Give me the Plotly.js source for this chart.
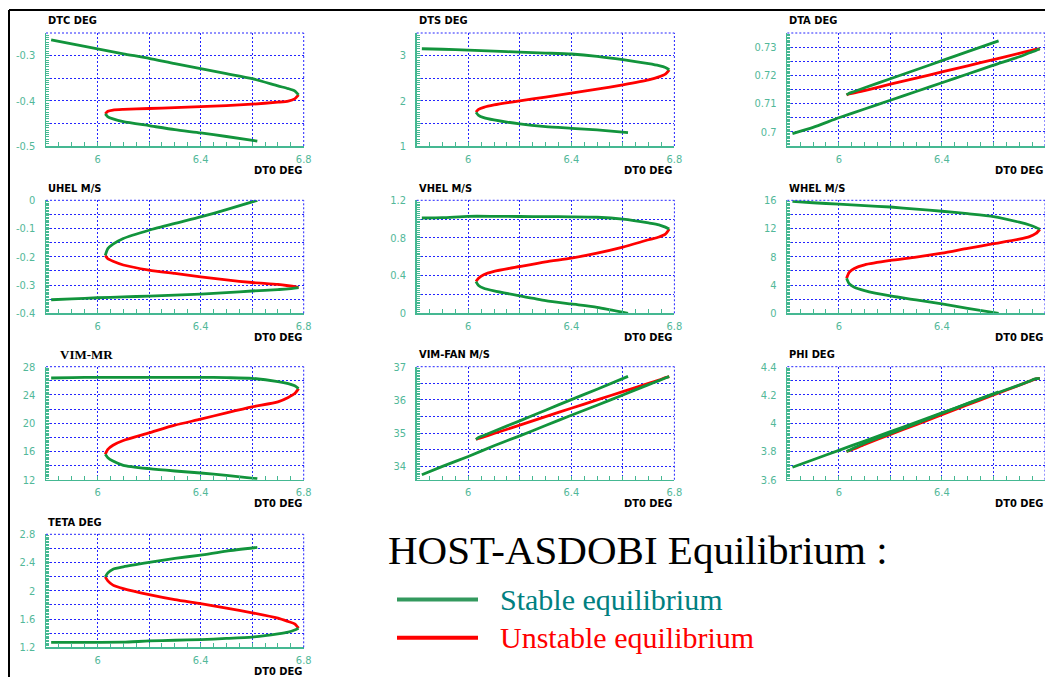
<!DOCTYPE html>
<html><head><meta charset="utf-8">
<script src="https://cdn.plot.ly/plotly-3.0.1.min.js"></script>
<style>html,body{margin:0;padding:0;background:#fff}#chart{width:1045px;height:677px}</style>
</head><body><div id="chart"></div>
<script>
// ---------- DATA ----------
// DT0 (deg) sample points along the three branches of the equilibrium curve
const dt0Stable1  = [5.82, 5.9, 6.0, 6.1, 6.2, 6.3, 6.4, 6.5, 6.6, 6.7, 6.74, 6.765, 6.78];
const dt0Unstable = [6.78, 6.765, 6.74, 6.7, 6.6, 6.5, 6.4, 6.3, 6.2, 6.1, 6.06, 6.04, 6.03];
const dt0Stable2  = [6.03, 6.04, 6.06, 6.1, 6.2, 6.3, 6.4, 6.5, 6.62];
const dt0TickVals = [5.8, 6.0, 6.2, 6.4, 6.6, 6.8];
const dt0TickText = ['', '6', '', '6.4', '', '6.8'];

const panelTitles = ['DTC DEG','DTS DEG','DTA DEG','UHEL M/S','VHEL M/S','WHEL M/S','VIM-MR','VIM-FAN M/S','PHI DEG','TETA DEG'];

const dtcStable1 = [-0.265,-0.274,-0.285,-0.296,-0.306,-0.318,-0.329,-0.340,-0.351,-0.367,-0.373,-0.378,-0.387];
const dtcUnstable = [-0.387,-0.3957,-0.4005,-0.403,-0.4075,-0.4105,-0.413,-0.415,-0.417,-0.419,-0.4205,-0.4233,-0.429];
const dtcStable2 = [-0.429,-0.4354,-0.440,-0.446,-0.455,-0.464,-0.471,-0.479,-0.489];

const dtsStable1 = [3.152,3.14,3.12,3.10,3.075,3.056,3.035,2.985,2.91,2.82,2.776,2.736,2.686];
const dtsUnstable = [2.686,2.59,2.529,2.464,2.354,2.257,2.169,2.08,2.0,1.91,1.856,1.81,1.747];
const dtsStable2 = [1.747,1.679,1.629,1.577,1.488,1.429,1.392,1.355,1.296];

const dtaStable1 = [0.6994,0.7016,0.7050,0.7081,0.7112,0.7143,0.7174,0.7205,0.7236,0.7266,0.7280,0.7288,0.7294];
const dtaUnstable = [0.7294,0.7292,0.7287,0.7278,0.7256,0.7234,0.7212,0.7190,0.7169,0.7146,0.7138,0.7134,0.7131];
const dtaStable2 = [0.7131,0.7137,0.7143,0.7156,0.7188,0.7220,0.7252,0.7284,0.7322];

const uhelStable1 = [-0.352,-0.349,-0.345,-0.342,-0.339,-0.336,-0.332,-0.327,-0.321,-0.316,-0.3137,-0.311,-0.309];
const uhelUnstable = [-0.309,-0.306,-0.3025,-0.298,-0.291,-0.282,-0.271,-0.259,-0.247,-0.229,-0.216,-0.207,-0.195];
const uhelStable2 = [-0.195,-0.171,-0.155,-0.135,-0.106,-0.082,-0.059,-0.033,0.0];

const vhelStable1 = [1.012,1.015,1.03,1.03,1.028,1.027,1.025,1.02,1.0,0.96,0.94,0.915,0.895];
const vhelUnstable = [0.895,0.84,0.81,0.781,0.703,0.639,0.586,0.547,0.497,0.445,0.41,0.373,0.337];
const vhelStable2 = [0.337,0.295,0.266,0.238,0.185,0.135,0.099,0.064,0.0];

const whelStable1 = [15.85,15.65,15.45,15.25,15.05,14.75,14.45,14.1,13.7,12.9,12.5,12.15,11.9];
const whelUnstable = [11.9,11.3,10.85,10.5,9.85,9.2,8.52,7.95,7.48,6.86,6.35,5.8,4.97];
const whelStable2 = [4.97,4.2,3.7,3.22,2.46,1.89,1.33,0.71,0.0];

const vimMrStable1 = [26.4,26.45,26.5,26.5,26.5,26.5,26.5,26.45,26.35,25.9,25.6,25.3,24.9];
const vimMrUnstable = [24.9,24.2,23.65,23.03,22.32,21.47,20.57,19.72,18.63,17.55,16.88,16.3,15.6];
const vimMrStable2 = [15.6,15.12,14.65,14.04,13.56,13.23,12.95,12.62,12.14];

const vimFanStable1 = [33.75,34.0,34.30,34.62,34.92,35.23,35.54,35.84,36.15,36.46,36.58,36.66,36.70];
const vimFanUnstable = [36.70,36.67,36.60,36.50,36.25,36.0,35.75,35.5,35.24,34.99,34.89,34.84,34.81];
const vimFanStable2 = [34.81,34.87,34.93,35.06,35.37,35.69,36.01,36.32,36.71];

const phiStable1 = [3.688,3.741,3.808,3.874,3.94,4.007,4.073,4.139,4.205,4.27,4.298,4.315,4.318];
const phiUnstable = [4.318,4.314,4.297,4.269,4.2,4.131,4.061,3.99,3.92,3.85,3.819,3.805,3.8];
const phiStable2 = [3.8,3.808,3.826,3.858,3.928,3.998,4.07,4.14,4.222];

const tetaStable1 = [1.27,1.27,1.27,1.272,1.29,1.30,1.31,1.325,1.345,1.39,1.415,1.445,1.47];
const tetaUnstable = [1.47,1.532,1.565,1.613,1.689,1.755,1.817,1.874,1.945,2.031,2.08,2.14,2.197];
const tetaStable2 = [2.197,2.254,2.306,2.339,2.401,2.458,2.506,2.563,2.615];

// y-axis ranges, grid values and tick labels
const yRanges = [[-0.5,-0.25],[1,3.5],[0.695,0.735],[-0.4,0],[0,1.2],[0,16],[12,28],[33.6,37],[3.6,4.4],[1.2,2.8]];
const yGridVals = [
  [-0.5,-0.45,-0.4,-0.35,-0.3,-0.25],
  [1,1.5,2,2.5,3,3.5],
  [0.695,0.7,0.705,0.71,0.715,0.72,0.725,0.73,0.735],
  [-0.4,-0.35,-0.3,-0.25,-0.2,-0.15,-0.1,-0.05,0],
  [0,0.2,0.4,0.6,0.8,1.0,1.2],
  [0,2,4,6,8,10,12,14,16],
  [12,14,16,18,20,22,24,26,28],
  [33.6,34,34.5,35,35.5,36,36.5,37],
  [3.6,3.7,3.8,3.9,4.0,4.1,4.2,4.3,4.4],
  [1.2,1.4,1.6,1.8,2.0,2.2,2.4,2.6,2.8]
];
const yTickLabels = [
  ['-0.5','','-0.4','','-0.3',''],
  ['1','','2','','3',''],
  ['','0.7','','0.71','','0.72','','0.73',''],
  ['-0.4','','-0.3','','-0.2','','-0.1','','0'],
  ['0','','0.4','','0.8','','1.2'],
  ['0','','4','','8','','12','','16'],
  ['12','','16','','20','','24','','28'],
  ['','34','','35','','36','','37'],
  ['3.6','','3.8','','4','','4.2','','4.4'],
  ['1.2','','1.6','','2','','2.4','','2.8']
];
const yMinorStep = [0.005,0.05,0.0005,0.005,0.02,0.2,0.2,0.05,0.01,0.02];

const stable1 = [dtcStable1,dtsStable1,dtaStable1,uhelStable1,vhelStable1,whelStable1,vimMrStable1,vimFanStable1,phiStable1,tetaStable1];
const unstable = [dtcUnstable,dtsUnstable,dtaUnstable,uhelUnstable,vhelUnstable,whelUnstable,vimMrUnstable,vimFanUnstable,phiUnstable,tetaUnstable];
const stable2 = [dtcStable2,dtsStable2,dtaStable2,uhelStable2,vhelStable2,whelStable2,vimMrStable2,vimFanStable2,phiStable2,tetaStable2];

// ---------- LAYOUT ----------
const W = 1045, H = 677;
const colLeft = [46, 416.7, 787.3], plotW = 257.7;
const rowTop = [33, 200.3, 366.7, 534.3], plotH = 113;
const GREEN = '#12943c', RED = '#ff0000';
const AXIS = '#45b892', LABEL = '#52b899';
const GRID = '#2424ff';
const narrow = '"Liberation Sans Narrow", "DejaVu Sans Condensed", "Arial Narrow", sans-serif';
const px = v => v / W, py = v => 1 - v / H;

const traces = [];
const layout = {
  width: W, height: H, margin: {l:0, r:0, t:0, b:0},
  paper_bgcolor: '#fff', plot_bgcolor: '#fff', showlegend: false,
  shapes: [], annotations: []
};

panelTitles.forEach((title, i) => {
  const n = i + 1, sfx = i === 0 ? '' : String(n);
  const col = i % 3, row = Math.floor(i / 3);
  const x0 = colLeft[col], x1 = Math.min(W, x0 + plotW);
  const top = rowTop[row], bot = top + plotH;
  const xa = 'x' + sfx, ya = 'y' + sfx;
  const lineStyle = c => ({color: c, width: 2.8, shape: 'spline', smoothing: 0.6});
  traces.push({x: dt0Unstable, y: unstable[i], xaxis: xa, yaxis: ya, mode: 'lines', line: lineStyle(RED), hoverinfo: 'skip'});
  traces.push({x: dt0Stable1, y: stable1[i], xaxis: xa, yaxis: ya, mode: 'lines', line: lineStyle(GREEN), hoverinfo: 'skip'});
  traces.push({x: dt0Stable2, y: stable2[i], xaxis: xa, yaxis: ya, mode: 'lines', line: lineStyle(GREEN), hoverinfo: 'skip'});

  layout['xaxis' + sfx] = {
    domain: [px(x0), px(x1)], anchor: ya, range: [5.8, 6.8],
    tickmode: 'array', tickvals: dt0TickVals, ticktext: dt0TickText,
    ticks: 'inside', ticklen: 4, tickcolor: AXIS, tickwidth: 1,
    minor: {dtick: 0.05, tick0: 5.8, ticks: 'inside', ticklen: 4, tickcolor: AXIS, tickwidth: 1, showgrid: false},
    showgrid: true, gridcolor: GRID, gridwidth: 1, griddash: '2px,2px',
    showline: true, linecolor: AXIS, linewidth: 1.5, zeroline: false,
    tickfont: {family: narrow, size: 11, color: LABEL}, ticklabelstandoff: 2,
    fixedrange: true
  };
  layout['yaxis' + sfx] = {
    domain: [py(bot), py(top)], anchor: xa, range: yRanges[i],
    tickmode: 'array', tickvals: yGridVals[i], ticktext: yTickLabels[i],
    ticks: 'inside', ticklen: 4, tickcolor: AXIS, tickwidth: 1,
    minor: {dtick: yMinorStep[i], tick0: yRanges[i][0], ticks: 'inside', ticklen: 3, tickcolor: AXIS, tickwidth: 1, showgrid: false},
    showgrid: true, gridcolor: GRID, gridwidth: 1, griddash: '2px,2px',
    showline: true, linecolor: AXIS, linewidth: 1.5, zeroline: false,
    tickfont: {family: narrow, size: 11, color: LABEL}, ticklabelstandoff: 7,
    fixedrange: true
  };
  // top and right frame edges (dotted blue)
  const dash = {color: GRID, width: 1, dash: '2px,2px'};
  layout.shapes.push({type: 'line', xref: xa + ' domain', yref: ya + ' domain', x0: 0, x1: 1, y0: 1, y1: 1, line: dash});
  layout.shapes.push({type: 'line', xref: xa + ' domain', yref: ya + ' domain', x0: 1, x1: 1, y0: 0, y1: 1, line: dash});

  // panel title
  const isMR = title === 'VIM-MR';
  layout.annotations.push({
    xref: 'paper', yref: 'paper', x: px(x0 + (isMR ? 12 : 0)), y: py(top - 12),
    xanchor: 'left', yanchor: 'middle', showarrow: false, text: '<b>' + title + '</b>',
    font: isMR ? {family: '"Liberation Serif", "Times New Roman", serif', size: 13, color: '#000'}
               : {family: narrow, size: 11, color: '#000'}
  });
  // x-axis title
  layout.annotations.push({
    xref: 'paper', yref: 'paper', x: px(x1), y: py(bot + 24),
    xanchor: 'right', yanchor: 'middle', showarrow: false, text: '<b>DT0 DEG</b>',
    font: {family: narrow, size: 11, color: '#000'}
  });
});

// outer frame
layout.shapes.push({type: 'line', xref: 'paper', yref: 'paper', x0: px(9), x1: 1, y0: py(10), y1: py(10), line: {color: '#000', width: 2}});
layout.shapes.push({type: 'line', xref: 'paper', yref: 'paper', x0: px(9), x1: px(9), y0: 0, y1: py(10), line: {color: '#000', width: 2}});

// legend block
const serif = '"Liberation Serif", "Times New Roman", serif';
layout.annotations.push({xref: 'paper', yref: 'paper', x: px(386), y: py(550), xanchor: 'left', yanchor: 'middle', showarrow: false,
  text: 'HOST-ASDOBI Equilibrium :', font: {family: serif, size: 41, color: '#000'}});
layout.annotations.push({xref: 'paper', yref: 'paper', x: px(498), y: py(599), xanchor: 'left', yanchor: 'middle', showarrow: false,
  text: 'Stable equilibrium', font: {family: serif, size: 30, color: '#008080'}});
layout.annotations.push({xref: 'paper', yref: 'paper', x: px(498), y: py(637), xanchor: 'left', yanchor: 'middle', showarrow: false,
  text: 'Unstable equilibrium', font: {family: serif, size: 30, color: '#ff0000'}});
layout.shapes.push({type: 'line', xref: 'paper', yref: 'paper', x0: px(397), x1: px(478), y0: py(599.5), y1: py(599.5), line: {color: '#33995e', width: 4}});
layout.shapes.push({type: 'line', xref: 'paper', yref: 'paper', x0: px(397), x1: px(478), y0: py(637.7), y1: py(637.7), line: {color: '#ff0000', width: 4}});

Plotly.newPlot('chart', traces, layout, {displayModeBar: false, staticPlot: true});
</script>
</body></html>
